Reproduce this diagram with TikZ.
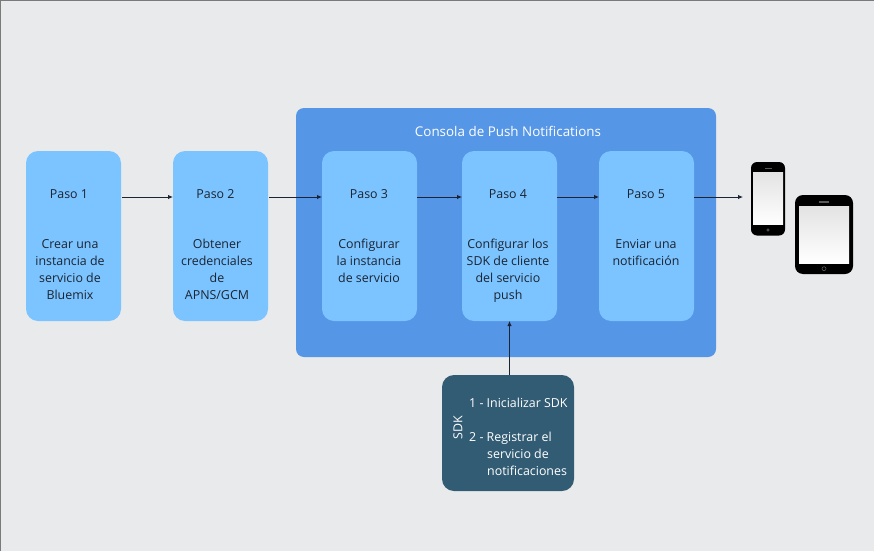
\documentclass[tikz,border=0pt]{standalone}
\usepackage{fontspec}
\setmainfont{Open Sans}
\usetikzlibrary{arrows.meta,calc}
\definecolor{bgc}{HTML}{E9EAEC}
\definecolor{stepc}{HTML}{7CC4FF}
\definecolor{consc}{HTML}{5596E6}
\definecolor{sdkc}{HTML}{325C73}
\definecolor{inkc}{HTML}{1B2433}
\definecolor{framec}{HTML}{7A7A7A}
\tikzset{
  stepbox/.style={fill=stepc,rounded corners=12pt,minimum width=95pt,minimum height=170pt,inner sep=0pt,outer sep=0pt},
  lbl/.style={font=\fontsize{12.4}{17}\selectfont,text=inkc,align=center,inner sep=0pt,anchor=base},
  wlbl/.style={font=\fontsize{12.4}{17}\selectfont,text=white,inner sep=0pt,anchor=base west},
  conn/.style={draw=inkc,line width=0.9pt,-{Latex[length=5pt,width=4.5pt]}},
  bodyd/.style={fill=black,inner sep=0pt,outer sep=0pt},
  scrn/.style={inner sep=0pt,outer sep=0pt,bottom color=white,top color=black!11},
}
\begin{document}
\begin{tikzpicture}[x=1pt,y=-1pt]
\useasboundingbox (0,0) rectangle (874,551);
\fill[bgc] (0,0) rectangle (874,551);
\draw[framec,line width=1.2pt] (0.5,551) -- (0.5,0.5) -- (874,0.5);
% console
\node[fill=consc,rounded corners=8pt,minimum width=420pt,minimum height=249pt,inner sep=0pt,outer sep=0pt] (cons) at (506,232.5) {};
\node[font=\fontsize{13.4}{17}\selectfont,text=white,inner sep=0pt,anchor=base] (constitle) at (508,136) {Consola de Push Notifications};
% steps
\node[stepbox] (s1) at (73.5,236) {};
\node[stepbox] (s2) at (220.5,236) {};
\node[stepbox] (s3) at (369.5,236) {};
\node[stepbox] (s4) at (509.5,236) {};
\node[stepbox] (s5) at (646.5,236) {};
% step labels
\node[lbl] (p1) at (69,198) {Paso 1};
\node[lbl] (p2) at (215.5,198) {Paso 2};
\node[lbl] (p3) at (369,198) {Paso 3};
\node[lbl] (p4) at (508,198) {Paso 4};
\node[lbl] (p5) at (646,198) {Paso 5};
\node[lbl] (t1) at (70,299) {Crear una\\instancia de\\servicio de\\Bluemix};
\node[lbl] (t2) at (217,299) {Obtener\\credenciales\\de\\APNS/GCM};
\node[lbl] (t3) at (369,282) {Configurar\\la instancia\\de servicio};
\node[lbl] (t4) at (508,299) {Configurar los\\SDK de cliente\\del servicio\\push};
\node[lbl] (t5) at (646,265) {Enviar una\\notificación};
% SDK
\node[fill=sdkc,rounded corners=12pt,minimum width=132pt,minimum height=116pt,inner sep=0pt,outer sep=0pt] (sdk) at (508,433) {};
\node[wlbl,rotate=90,anchor=center] (sdkt) at (458,428) {SDK};
\node[wlbl] (i1) at (469,407) {1 - Inicializar SDK};
\node[wlbl] (i2) at (469,441) {2 - Registrar el};
\node[wlbl] (i3) at (487,458) {servicio de};
\node[wlbl] (i4) at (487,475) {notificaciones};
% devices
\node[bodyd,rounded corners=6pt,minimum width=34pt,minimum height=73.5pt] (phone) at (768,198.75) {};
\node[scrn,minimum width=30pt,minimum height=52.5pt] (phonescr) at (768,198.7) {};
\node[bodyd,rounded corners=8pt,minimum width=58pt,minimum height=79pt] (tablet) at (824,234.5) {};
\node[scrn,minimum width=50pt,minimum height=57pt] (tabletscr) at (824,234.5) {};
\fill[black!65] (764.5,168) rectangle (771.5,169);
\fill[black!65] (819,201) rectangle (829,202.5);
\draw[black!60,line width=0.5pt] (768,230) circle (1.2);
\draw[black!60,line width=0.5pt] (824,268.7) circle (2);
% connectors
\coordinate (row) at (0,197);
\draw[conn] ([xshift=1pt]s1.east |- row) -- (s2.west |- row);
\draw[conn] ([xshift=1pt]s2.east |- row) -- (s3.west |- row);
\draw[conn] (s3.east |- row) -- (s4.west |- row);
\draw[conn] (s4.east |- row) -- (s5.west |- row);
\draw[conn] (s5.east |- row) -- ([xshift=-8pt]phone.west |- row);
\draw[conn] (sdk.north -| s4.south) -- (s4.south);
\end{tikzpicture}
\end{document}
